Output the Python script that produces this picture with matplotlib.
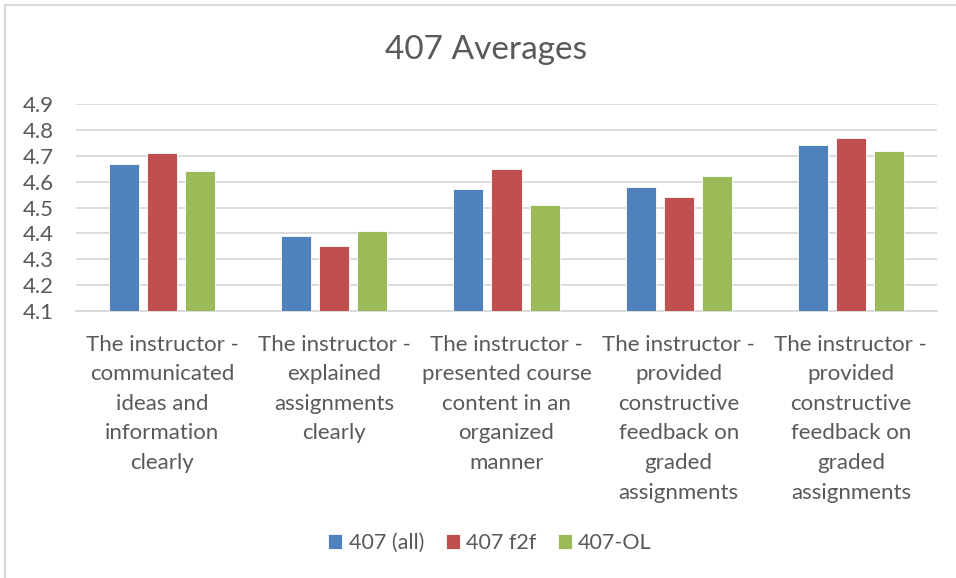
import numpy as np
import matplotlib.pyplot as plt
from matplotlib.lines import Line2D

# Données
categories = [
    "The instructor -\ncommunicated\nideas and\ninformation\nclearly",
    "The instructor -\nexplained\nassignments\nclearly",
    "The instructor -\npresented course\ncontent in an\norganized\nmanner",
    "The instructor -\nprovided\nconstructive\nfeedback on\ngraded\nassignments",
    "The instructor -\nprovided\nconstructive\nfeedback on\ngraded\nassignments",
]
series_names = ["407 (all)", "407 f2f", "407-OL"]
all_vals = [4.67, 4.39, 4.57, 4.58, 4.74]
f2f_vals = [4.71, 4.35, 4.65, 4.54, 4.77]
ol_vals = [4.64, 4.41, 4.51, 4.62, 4.72]
yticks = [4.1, 4.2, 4.3, 4.4, 4.5, 4.6, 4.7, 4.8, 4.9]

colors = ['#4F81BD', '#C0504D', '#9BBB59']
txt = '#595959'
plt.rcParams['font.family'] = ['Lato', 'DejaVu Sans']

fig = plt.figure(figsize=(9.56, 5.78), dpi=100)
ax = fig.add_axes([76/956, 1-311/578, (937-76)/956, (311-104)/578])

x = np.arange(len(categories))
w = 30/172
step = 38/172
for i, vals in enumerate([all_vals, f2f_vals, ol_vals]):
    ax.bar(x + (i-1)*step, np.array(vals) - 4.1, width=w, bottom=4.1,
           color=colors[i], edgecolor='white', linewidth=0.6,
           label=series_names[i], zorder=3)

ax.set_ylim(4.1, 4.9)
ax.set_xlim(-0.5, len(categories)-0.5)
ax.set_yticks(yticks)
ax.set_yticklabels([f"{v:.1f}" for v in yticks])
ax.yaxis.grid(True, color='#D9D9D9', linewidth=1.3, zorder=0)
ax.set_axisbelow(True)
for s in ['top', 'right', 'left']:
    ax.spines[s].set_visible(False)
ax.spines['bottom'].set_color('#D9D9D9')
ax.spines['bottom'].set_linewidth(1.3)
ax.tick_params(axis='both', length=0, colors=txt, labelsize=16)
ax.tick_params(axis='y', pad=16)
ax.tick_params(axis='x', pad=17)
ax.set_xticks(x)
ax.set_xticklabels(categories, linespacing=1.6, color=txt)

fig.text(486/956, 1-50/578, "407 Averages", ha='center', va='center',
         fontsize=24, color=txt)

fig.legend(loc='center', bbox_to_anchor=(490/956, 1-543/578), ncol=3,
           frameon=False, fontsize=15.5, handlelength=0.65, handleheight=0.65,
           handletextpad=0.3, columnspacing=1.0, labelcolor=txt)

# bordure
fig.add_artist(Line2D([5/956, 5/956], [0, 1-5/578], color='#D9D9D9', linewidth=1.5))
fig.add_artist(Line2D([5/956, 1], [1-5/578, 1-5/578], color='#D9D9D9', linewidth=1.5))

fig.savefig('out.png', dpi=100)
